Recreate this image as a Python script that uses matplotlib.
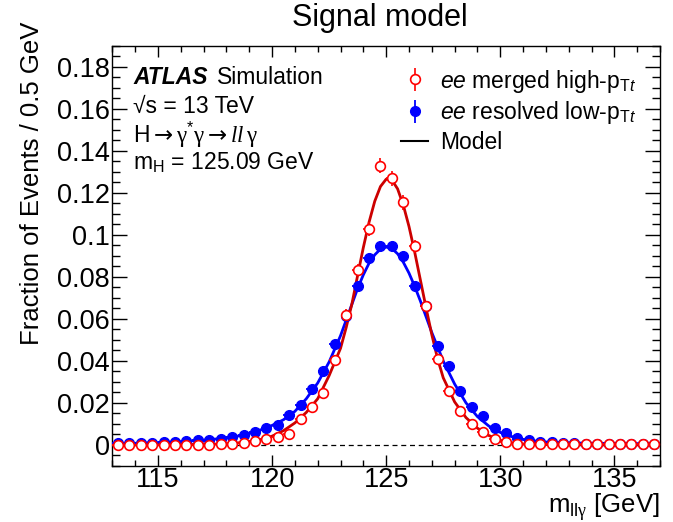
import matplotlib
matplotlib.use("Agg")
import matplotlib.pyplot as plt
from matplotlib.lines import Line2D
from matplotlib.ticker import MultipleLocator

plt.rcParams['font.family'] = ['Liberation Sans', 'DejaVu Sans']
plt.rcParams['mathtext.fontset'] = 'custom'
plt.rcParams['mathtext.rm'] = 'Liberation Sans'
plt.rcParams['mathtext.it'] = 'Liberation Sans:italic'
plt.rcParams['mathtext.bf'] = 'Liberation Sans:bold'
plt.rcParams['mathtext.sf'] = 'Liberation Serif'
plt.rcParams['mathtext.cal'] = 'Liberation Serif:italic'
plt.rcParams['mathtext.tt'] = 'DejaVu Sans'

# bin centres (0.5 GeV bins)
mass = [113.25, 113.75, 114.25, 114.75, 115.25, 115.75, 116.25, 116.75,
        117.25, 117.75, 118.25, 118.75, 119.25, 119.75, 120.25, 120.75,
        121.25, 121.75, 122.25, 122.75, 123.25, 123.75, 124.25, 124.75,
        125.25, 125.75, 126.25, 126.75, 127.25, 127.75, 128.25, 128.75,
        129.25, 129.75, 130.25, 130.75, 131.25, 131.75, 132.25, 132.75,
        133.25, 133.75, 134.25, 134.75, 135.25, 135.75, 136.25, 136.75]

# ee merged high-pTt (open red)
merged = [0.0000, 0.0000, 0.0000, 0.0001, 0.0000, 0.0001, 0.0001, 0.0002,
          0.0002, 0.0004, 0.0004, 0.0011, 0.0019, 0.0030, 0.0040, 0.0051,
          0.0125, 0.0180, 0.0248, 0.0405, 0.0620, 0.0833, 0.1027, 0.1329,
          0.1269, 0.1154, 0.0945, 0.0660, 0.0411, 0.0256, 0.0162, 0.0099,
          0.0062, 0.0030, 0.0012, 0.0004, 0.0003, 0.0003, 0.0004, 0.0004,
          0.0005, 0.0005, 0.0005, 0.0005, 0.0005, 0.0005, 0.0005, 0.0005]
merged_err = [0.0002, 0.0002, 0.0002, 0.0002, 0.0002, 0.0002, 0.0002, 0.0003,
              0.0003, 0.0004, 0.0004, 0.0006, 0.0007, 0.0009, 0.0010, 0.0011,
              0.0013, 0.0015, 0.0018, 0.0022, 0.0027, 0.0030, 0.0033, 0.0037,
              0.0036, 0.0034, 0.0030, 0.0026, 0.0020, 0.0016, 0.0013, 0.0010,
              0.0008, 0.0006, 0.0004, 0.0003, 0.0002, 0.0002, 0.0002, 0.0002,
              0.0002, 0.0002, 0.0002, 0.0002, 0.0002, 0.0002, 0.0002, 0.0002]

# ee resolved low-pTt (filled blue)
resolved = [0.0008, 0.0008, 0.0011, 0.0011, 0.0014, 0.0016, 0.0018, 0.0022,
            0.0026, 0.0030, 0.0037, 0.0048, 0.0064, 0.0083, 0.0094, 0.0141,
            0.0190, 0.0268, 0.0352, 0.0480, 0.0614, 0.0757, 0.0892, 0.0948,
            0.0948, 0.0900, 0.0757, 0.0659, 0.0471, 0.0376, 0.0257, 0.0181,
            0.0138, 0.0080, 0.0059, 0.0035, 0.0024, 0.0016, 0.0014, 0.0011,
            0.0008, 0.0007, 0.0007, 0.0007, 0.0006, 0.0006, 0.0006, 0.0006]
resolved_err = [0.0001, 0.0001, 0.0001, 0.0001, 0.0002, 0.0002, 0.0002, 0.0002,
                0.0002, 0.0002, 0.0003, 0.0003, 0.0003, 0.0004, 0.0004, 0.0005,
                0.0006, 0.0007, 0.0008, 0.0009, 0.0010, 0.0011, 0.0012, 0.0012,
                0.0012, 0.0012, 0.0011, 0.0010, 0.0009, 0.0008, 0.0007, 0.0006,
                0.0005, 0.0004, 0.0003, 0.0003, 0.0002, 0.0002, 0.0002, 0.0001,
                0.0001, 0.0001, 0.0001, 0.0001, 0.0001, 0.0001, 0.0001, 0.0001]

# model curves
model_red_x = [113, 114, 115, 116, 117, 117.5, 118, 118.5, 119, 119.5, 120, 120.5,
               121, 121.5, 122, 122.5, 123, 123.25, 123.5, 123.75, 124, 124.25,
               124.5, 124.75, 125, 125.25, 125.5, 125.75, 126, 126.25, 126.5,
               126.75, 127, 127.25, 127.5, 128, 128.5, 129, 129.5, 130, 130.5,
               131, 132, 133, 135, 137]
model_red_y = [0.0, 0.0, 0.0001, 0.0002, 0.0003, 0.0004, 0.0006, 0.0010, 0.0016,
               0.0026, 0.0042, 0.0068, 0.0105, 0.0155, 0.0220, 0.0330, 0.0460,
               0.0560, 0.0672, 0.0807, 0.0940, 0.1060, 0.1160, 0.1230, 0.1265,
               0.1261, 0.1219, 0.1142, 0.1040, 0.0918, 0.0785, 0.0652, 0.0525,
               0.0412, 0.0320, 0.0205, 0.0130, 0.0080, 0.0045, 0.0022, 0.0010,
               0.0005, 0.0002, 0.0001, 0.0, 0.0]
model_blue_x = [113, 114, 115, 116, 117, 117.5, 118, 118.5, 119, 119.5, 120, 120.5,
                121, 121.5, 122, 122.5, 123, 123.25, 123.5, 123.75, 124, 124.25,
                124.5, 124.75, 125, 125.25, 125.5, 125.75, 126, 126.25, 126.5,
                126.75, 127, 127.5, 128, 128.5, 129, 129.5, 130, 130.5, 131,
                131.5, 132, 133, 134, 135, 137]
model_blue_y = [0.0006, 0.0008, 0.0011, 0.0016, 0.0023, 0.0028, 0.0034, 0.0042,
                0.0055, 0.0072, 0.0093, 0.0120, 0.0160, 0.0220, 0.0295, 0.0395,
                0.0520, 0.0595, 0.0670, 0.0745, 0.0810, 0.0865, 0.0905, 0.0932,
                0.0942, 0.0935, 0.0910, 0.0870, 0.0818, 0.0755, 0.0685, 0.0610,
                0.0535, 0.0400, 0.0290, 0.0200, 0.0135, 0.0090, 0.0060, 0.0040,
                0.0027, 0.0019, 0.0014, 0.0010, 0.0008, 0.0007, 0.0006]

red_pts = '#ff0000'
red_line = '#cc0000'
blue = '#0000ff'

fig = plt.figure(figsize=(6.73, 5.22), dpi=100)
ax = fig.add_axes([0.1669, 0.1073, 0.8138, 0.8051])

ax.axhline(0, color='black', lw=0.9, ls=(0, (4, 3)), zorder=1)

ax.plot(model_blue_x, model_blue_y, color=blue, lw=2, zorder=2)
ax.plot(model_red_x, model_red_y, color=red_line, lw=2, zorder=3)

ax.errorbar(mass, resolved, yerr=resolved_err, xerr=0.25, fmt='o', color=blue,
            ms=7, elinewidth=1.3, capsize=0, zorder=4)
ax.errorbar(mass, merged, yerr=merged_err, xerr=0.25, fmt='o', color=red_pts,
            mfc='white', mec=red_pts, ms=7, mew=1.2, elinewidth=1.2,
            capsize=0, zorder=5)

ax.set_xlim(113, 137)
ax.set_ylim(-0.01, 0.19)
ax.xaxis.set_major_locator(MultipleLocator(5))
ax.xaxis.set_minor_locator(MultipleLocator(1))
ax.yaxis.set_minor_locator(MultipleLocator(0.005))
ax.set_yticks([0, 0.02, 0.04, 0.06, 0.08, 0.1, 0.12, 0.14, 0.16, 0.18])
ax.set_yticklabels(['0', '0.02', '0.04', '0.06', '0.08', '0.1', '0.12',
                    '0.14', '0.16', '0.18'])
ax.tick_params(which='both', direction='in', top=True, right=True,
               labelsize=19.5, width=1)
ax.tick_params(axis='x', which='major', length=8, pad=1)
ax.tick_params(axis='x', which='minor', length=4)
ax.tick_params(axis='y', which='major', length=11, pad=2)
ax.tick_params(axis='y', which='minor', length=5.5)
for sp in ax.spines.values():
    sp.set_linewidth(1)

fig.text(0.565, 0.9655, 'Signal model', ha='center', va='center', fontsize=22)
fig.text(32 / 673, 1 - 22 / 522, 'Fraction of Events / 0.5 GeV', rotation=90,
         ha='center', va='top', fontsize=18.5)
fig.text(0.980, 1 - 507 / 522,
         r'm$_{\mathrm{ll}\mathsf{\gamma}}$ [GeV]', ha='right',
         va='center', fontsize=18.5)

# ATLAS label block
tx = 133 / 673
fs_txt = 16.5
fig.text(tx, 1 - 77 / 522, 'ATLAS', fontsize=fs_txt, fontweight='bold',
         style='italic', va='center')
fig.text(217 / 673, 1 - 77 / 522, 'Simulation', fontsize=fs_txt, va='center')
fig.text(tx, 1 - 106 / 522, '√s = 13 TeV', fontsize=fs_txt, va='center')
fig.text(tx, 1 - 135 / 522,
         r'H$\mathtt{\rightarrow}\mathsf{\gamma}^{*}\mathsf{\gamma}'
         r'\mathtt{\rightarrow}\mathcal{ll}\,\mathsf{\gamma}$',
         fontsize=fs_txt, va='center')
fig.text(tx, 1 - 163 / 522, r'm$_{\mathrm{H}}$ = 125.09 GeV', fontsize=fs_txt,
         va='center')

# legend (manual proxies)
h_red = ax.errorbar([], [], yerr=[], fmt='o', color=red_pts, mfc='white',
                    mec=red_pts, ms=7, mew=1.2, elinewidth=1.2, capsize=0)
h_blue = ax.errorbar([], [], yerr=[], fmt='o', color=blue, ms=7,
                     elinewidth=1.3, capsize=0)
h_model = Line2D([], [], color='black', lw=1.5)
ax.legend([h_red, h_blue, h_model],
          [r'$\mathit{ee}$ merged high-p$_{\mathrm{T}\mathit{t}}$',
           r'$\mathit{ee}$ resolved low-p$_{\mathrm{T}\mathit{t}}$',
           'Model'],
          loc='upper left', bbox_to_anchor=(0.51, 0.97), frameon=False,
          fontsize=fs_txt, handlelength=1.2, handletextpad=0.5,
          labelspacing=0.2, borderaxespad=0)

fig.savefig('out.png', dpi=100)
